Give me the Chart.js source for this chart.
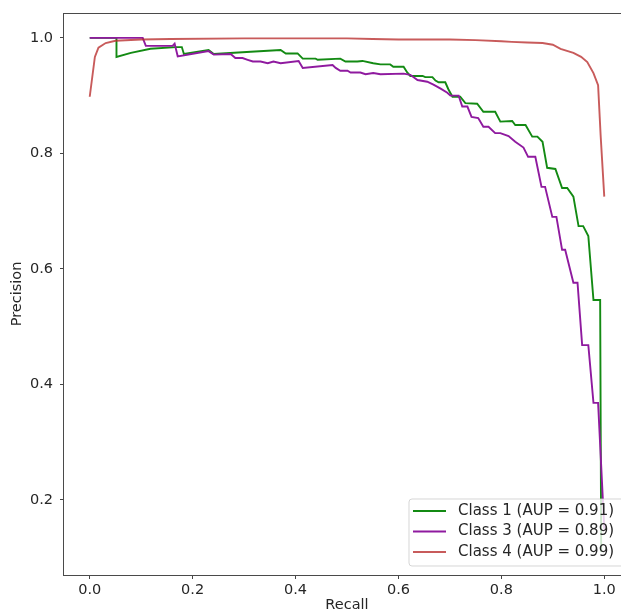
<!DOCTYPE html>
<html>
<head>
<meta charset="utf-8">
<script src="https://cdn.jsdelivr.net/npm/chart.js@4.4.1/dist/chart.umd.min.js"></script>
<style>
  html, body { margin: 0; padding: 0; background: #fff; overflow: hidden; }
  #wrap { width: 660px; height: 615px; }
</style>
</head>
<body>
<div id="wrap"><canvas id="c" width="660" height="615"></canvas></div>
<script>
// ---- Data ----
const seriesLabels = ['Class 1 (AUP = 0.91)', 'Class 3 (AUP = 0.89)', 'Class 4 (AUP = 0.99)'];
const seriesColors = ['#138a13', '#8f1a9f', 'rgba(185,45,45,0.78)'];

const class1Recall = [0, 0.052, 0.052, 0.080, 0.118, 0.167, 0.179, 0.183, 0.231, 0.241, 0.313, 0.371, 0.381, 0.404, 0.414, 0.439, 0.443, 0.487, 0.497, 0.520, 0.530, 0.551, 0.565, 0.584, 0.590, 0.610, 0.617, 0.623, 0.647, 0.652, 0.666, 0.672, 0.678, 0.691, 0.697, 0.705, 0.720, 0.730, 0.753, 0.765, 0.788, 0.798, 0.821, 0.827, 0.847, 0.860, 0.870, 0.880, 0.889, 0.905, 0.918, 0.928, 0.940, 0.950, 0.959, 0.969, 0.979, 0.988, 0.992, 0.994];
const class1Precision = [1.0, 1.0, 0.967, 0.974, 0.981, 0.984, 0.984, 0.972, 0.979, 0.972, 0.976, 0.979, 0.973, 0.973, 0.964, 0.964, 0.962, 0.964, 0.959, 0.959, 0.960, 0.956, 0.954, 0.954, 0.950, 0.950, 0.940, 0.934, 0.934, 0.932, 0.932, 0.926, 0.923, 0.923, 0.911, 0.898, 0.898, 0.887, 0.886, 0.872, 0.872, 0.855, 0.856, 0.849, 0.849, 0.829, 0.829, 0.820, 0.775, 0.773, 0.740, 0.740, 0.725, 0.674, 0.674, 0.657, 0.546, 0.546, 0.546, 0.11];

const class3Recall = [0, 0.103, 0.109, 0.161, 0.165, 0.171, 0.231, 0.241, 0.274, 0.283, 0.297, 0.307, 0.317, 0.332, 0.346, 0.357, 0.371, 0.406, 0.414, 0.472, 0.478, 0.487, 0.501, 0.507, 0.526, 0.536, 0.551, 0.565, 0.610, 0.623, 0.637, 0.656, 0.668, 0.682, 0.695, 0.701, 0.717, 0.724, 0.734, 0.742, 0.755, 0.765, 0.775, 0.788, 0.798, 0.814, 0.827, 0.843, 0.852, 0.866, 0.878, 0.885, 0.899, 0.907, 0.918, 0.924, 0.940, 0.948, 0.957, 0.969, 0.979, 0.988, 1.0];
const class3Precision = [1.0, 1.0, 0.986, 0.986, 0.990, 0.968, 0.977, 0.971, 0.972, 0.965, 0.965, 0.962, 0.959, 0.959, 0.956, 0.959, 0.956, 0.960, 0.948, 0.953, 0.948, 0.943, 0.943, 0.940, 0.940, 0.937, 0.939, 0.937, 0.938, 0.936, 0.927, 0.924, 0.919, 0.912, 0.905, 0.900, 0.900, 0.881, 0.881, 0.863, 0.861, 0.846, 0.846, 0.835, 0.835, 0.830, 0.820, 0.810, 0.794, 0.794, 0.742, 0.742, 0.690, 0.690, 0.633, 0.633, 0.576, 0.576, 0.468, 0.468, 0.368, 0.368, 0.15];

const class4Recall = [0, 0.010, 0.017, 0.031, 0.050, 0.100, 0.157, 0.300, 0.500, 0.550, 0.600, 0.700, 0.750, 0.800, 0.820, 0.850, 0.880, 0.900, 0.915, 0.940, 0.955, 0.967, 0.979, 0.988, 0.993, 1.0];
const class4Precision = [0.898, 0.967, 0.983, 0.991, 0.995, 0.997, 0.998, 0.999, 0.999, 0.998, 0.997, 0.997, 0.996, 0.994, 0.993, 0.992, 0.991, 0.988, 0.981, 0.974, 0.967, 0.958, 0.939, 0.918, 0.83, 0.725];

const xTickValues = [0.0, 0.2, 0.4, 0.6, 0.8, 1.0];
const yTickValues = [0.2, 0.4, 0.6, 0.8, 1.0];
const xTitle = 'Recall';
const yTitle = 'Precision';

// ---- Build datasets ----
function pts(xs, ys) { return xs.map((x, i) => ({ x: x, y: ys[i] })); }
const recalls = [class1Recall, class3Recall, class4Recall];
const precisions = [class1Precision, class3Precision, class4Precision];
const drawOrder = [3, 2, 1];

const datasets = seriesLabels.map((lab, i) => ({
  label: lab,
  data: pts(recalls[i], precisions[i]),
  borderColor: seriesColors[i],
  backgroundColor: seriesColors[i],
  borderWidth: 1.9,
  pointRadius: 0,
  tension: 0,
  fill: false,
  showLine: true,
  order: drawOrder[i]
}));

const FONT = '"DejaVu Sans", sans-serif';
const TXT = 14.5;

const framePlugin = {
  id: 'frame',
  beforeDatasetsDraw(chart) {
    const a = chart.chartArea, ctx = chart.ctx;
    ctx.save();
    ctx.strokeStyle = '#4a4a4a';
    ctx.lineWidth = 1;
    ctx.strokeRect(Math.round(a.left) - 0.5, Math.round(a.top) + 0.5, Math.round(a.right - a.left), Math.round(a.bottom - a.top));
    ctx.restore();
  }
};

const legendPlugin = {
  id: 'boxLegend',
  afterDraw(chart) {
    const a = chart.chartArea, ctx = chart.ctx;
    const right = a.right - 6, bottom = a.bottom - 9;
    const w = 215, h = 67;
    const left = right - w, top = bottom - h;
    ctx.save();
    ctx.beginPath();
    const r = 3;
    ctx.moveTo(left + r, top);
    ctx.lineTo(right - r, top); ctx.quadraticCurveTo(right, top, right, top + r);
    ctx.lineTo(right, bottom - r); ctx.quadraticCurveTo(right, bottom, right - r, bottom);
    ctx.lineTo(left + r, bottom); ctx.quadraticCurveTo(left, bottom, left, bottom - r);
    ctx.lineTo(left, top + r); ctx.quadraticCurveTo(left, top, left + r, top);
    ctx.closePath();
    ctx.fillStyle = 'rgba(255,255,255,0.8)';
    ctx.fill();
    ctx.strokeStyle = 'rgba(204,204,204,0.8)';
    ctx.lineWidth = 1;
    ctx.stroke();
    ctx.font = '15px ' + FONT;
    ctx.textBaseline = 'middle';
    ctx.textAlign = 'left';
    chart.data.datasets.forEach((ds, i) => {
      const y = top + 12 + i * 20.5;
      ctx.strokeStyle = ds.borderColor;
      ctx.lineWidth = 1.9;
      ctx.beginPath();
      ctx.moveTo(left + 4, y);
      ctx.lineTo(left + 37, y);
      ctx.stroke();
      ctx.fillStyle = '#262626';
      ctx.fillText(ds.label, left + 49, y);
    });
    ctx.restore();
  }
};

new Chart(document.getElementById('c'), {
  type: 'scatter',
  data: { datasets: datasets },
  options: {
    responsive: false,
    devicePixelRatio: 1,
    animation: false,
    layout: { padding: { left: 0, top: 13, right: 30, bottom: 0 } },
    plugins: { legend: { display: false }, tooltip: { enabled: false } },
    scales: {
      x: {
        type: 'linear',
        min: -0.05, max: 1.05,
        afterFit(s) { s.height = 40; s.paddingLeft = 0; s.paddingRight = 0; },
        afterBuildTicks(s) { s.ticks = xTickValues.map(v => ({ value: v })); },
        border: { display: false },
        grid: { display: true, drawOnChartArea: false, drawTicks: true, tickLength: 4, color: '#444', lineWidth: 1 },
        ticks: {
          autoSkip: false, maxRotation: 0, padding: 3,
          color: '#262626', font: { family: FONT, size: TXT },
          callback: v => Number(v).toFixed(1)
        },
        title: { display: true, text: xTitle, color: '#262626', font: { family: FONT, size: TXT }, padding: { top: 0, bottom: 1 } }
      },
      y: {
        type: 'linear',
        min: 0.07, max: 1.043,
        afterFit(s) { s.width = 64; s.paddingTop = 0; s.paddingBottom = 0; },
        afterBuildTicks(s) { s.ticks = yTickValues.map(v => ({ value: v })); },
        border: { display: false },
        grid: { display: true, drawOnChartArea: false, drawTicks: true, tickLength: 4, color: '#444', lineWidth: 1 },
        ticks: {
          autoSkip: false, padding: 7,
          color: '#262626', font: { family: FONT, size: TXT },
          callback: v => Number(v).toFixed(1)
        },
        title: { display: true, text: yTitle, color: '#262626', font: { family: FONT, size: TXT }, padding: { top: 9, bottom: 0 } }
      }
    }
  },
  plugins: [framePlugin, legendPlugin]
});
</script>
</body>
</html>
